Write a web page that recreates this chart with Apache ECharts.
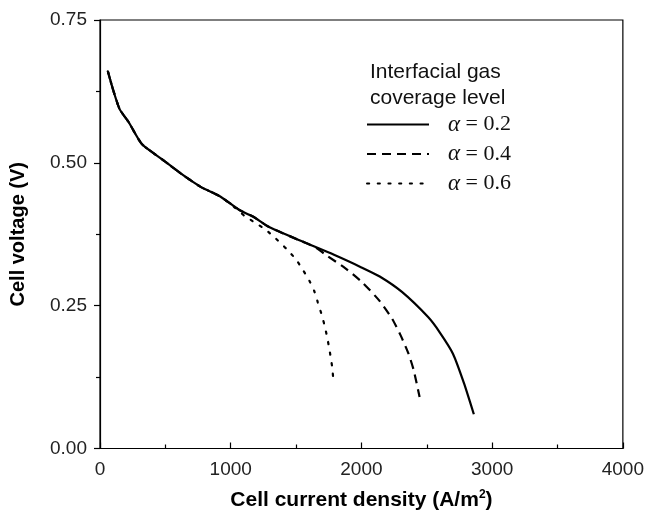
<!DOCTYPE html>
<html>
<head>
<meta charset="utf-8">
<script src="https://cdn.jsdelivr.net/npm/echarts@6/dist/echarts.min.js"></script>
<style>
html,body{margin:0;padding:0;background:#fff;}
#chart{width:647px;height:516px;}
</style>
</head>
<body>
<div id="chart"></div>
<script>
// Data
const seriesNames = ['α = 0.2', 'α = 0.4', 'α = 0.6'];
const currentA02 = [60, 70, 100, 150, 220, 320, 470, 620, 770, 920, 1070, 1170, 1290, 1540, 1790, 2000, 2140, 2310, 2510, 2600, 2700, 2785, 2860];
const voltageA02 = [0.660, 0.652, 0.628, 0.594, 0.571, 0.533, 0.507, 0.481, 0.458, 0.441, 0.417, 0.406, 0.388, 0.363, 0.339, 0.317, 0.301, 0.274, 0.230, 0.203, 0.166, 0.114, 0.060];
const currentA04 = [60, 70, 100, 150, 220, 320, 470, 620, 770, 920, 1070, 1170, 1290, 1540, 1640, 1740, 1880, 2010, 2140, 2235, 2300, 2360, 2400, 2445];
const voltageA04 = [0.660, 0.652, 0.628, 0.594, 0.571, 0.533, 0.507, 0.481, 0.458, 0.441, 0.417, 0.406, 0.388, 0.363, 0.353, 0.337, 0.315, 0.290, 0.258, 0.227, 0.198, 0.166, 0.137, 0.090];
const currentA06 = [60, 70, 100, 150, 220, 320, 470, 620, 770, 920, 1020, 1106, 1181, 1267, 1347, 1424, 1499, 1554, 1603, 1640, 1666, 1692, 1715, 1734, 1750, 1764, 1776, 1784];
const voltageA06 = [0.660, 0.652, 0.628, 0.594, 0.571, 0.533, 0.507, 0.481, 0.458, 0.441, 0.424, 0.407, 0.396, 0.383, 0.367, 0.350, 0.331, 0.312, 0.293, 0.275, 0.256, 0.237, 0.218, 0.199, 0.180, 0.161, 0.143, 0.123];
const xTicks = [0, 1000, 2000, 3000, 4000];
const yTicks = [0, 0.25, 0.5, 0.75];

function pairs(xs, ys) { return xs.map((x, i) => [x, ys[i]]); }

const chart = echarts.init(document.getElementById('chart'), null, {renderer: 'canvas'});
const sansFont = '"Liberation Sans", Arial, sans-serif';
const serifFont = '"Liberation Serif", "Times New Roman", serif';

chart.setOption({
  animation: false,
  backgroundColor: '#ffffff',
  grid: {
    left: 94, right: 17.5, top: 20, bottom: 64,
    show: true, borderColor: '#000', borderWidth: 1.2, backgroundColor: 'transparent'
  },
  xAxis: {
    type: 'value', min: xTicks[0], max: xTicks[xTicks.length - 1], interval: 1000,
    name: 'Cell current density (A/m{sup|2})',
    nameLocation: 'middle', nameGap: 40,
    nameTextStyle: {
      fontFamily: sansFont, fontSize: 21, fontWeight: 'bold', color: '#000',
      rich: { sup: { fontFamily: sansFont, fontSize: 12, fontWeight: 'bold', color: '#000', verticalAlign: 'top', padding: [0, 0, 12, 0] } }
    },
    axisLine: { show: true, lineStyle: { color: '#000', width: 1.2 } },
    axisTick: { show: true, inside: true, length: 6, lineStyle: { color: '#000', width: 1.2 } },
    minorTick: { show: true, splitNumber: 2, length: 4, lineStyle: { color: '#000', width: 1.2 } },
    axisLabel: { fontFamily: sansFont, fontSize: 19, color: '#222', margin: 12, formatter: v => String(v) },
    splitLine: { show: false }
  },
  yAxis: {
    type: 'value', min: yTicks[0], max: yTicks[yTicks.length - 1], interval: 0.25,
    name: 'Cell voltage (V)',
    nameLocation: 'middle', nameGap: 72, nameRotate: 90,
    nameTextStyle: { fontFamily: sansFont, fontSize: 20, fontWeight: 'bold', color: '#000' },
    axisLine: { show: true, lineStyle: { color: '#000', width: 1.2 } },
    axisTick: { show: true, inside: false, length: 6, lineStyle: { color: '#000', width: 1.2 } },
    minorTick: { show: true, splitNumber: 2, length: 4, lineStyle: { color: '#000', width: 1.2 } },
    axisLabel: { fontFamily: sansFont, fontSize: 19, color: '#222', margin: 13,
      formatter: v => v.toFixed(2) },
    splitLine: { show: false }
  },
  legend: {
    orient: 'vertical', left: 366, top: 113, padding: 0,
    itemWidth: 62, itemHeight: 14, itemGap: 6.5,
    data: seriesNames,
    itemStyle: { opacity: 0 },
    formatter: name => '{a|α}{b|' + name.slice(1) + '}',
    textStyle: {
      fontFamily: serifFont, fontSize: 21, color: '#111', lineHeight: 22,
      rich: {
        a: { fontFamily: serifFont, fontSize: 23, fontStyle: 'italic', color: '#111', lineHeight: 22, padding: [0, 0, 0, 14] },
        b: { fontFamily: serifFont, fontSize: 22, color: '#111', lineHeight: 22 }
      }
    }
  },
  graphic: [{
    type: 'text', left: 370, top: 59,
    style: { text: 'Interfacial gas\ncoverage level', font: '21px ' + sansFont, fill: '#111', lineHeight: 26 }
  }],
  series: [
    { name: seriesNames[2], type: 'line', data: pairs(currentA06, voltageA06), symbol: 'none', smooth: 0.2, z: 2,
      itemStyle: { color: '#000' },
      lineStyle: { color: '#000', width: 2.2, type: [2.2, 8.5], cap: 'round' } },
    { name: seriesNames[1], type: 'line', data: pairs(currentA04, voltageA04), symbol: 'none', smooth: 0.2, z: 3,
      itemStyle: { color: '#000' },
      lineStyle: { color: '#000', width: 2.2, type: [9, 6] } },
    { name: seriesNames[0], type: 'line', data: pairs(currentA02, voltageA02), symbol: 'none', smooth: 0.2, z: 4,
      itemStyle: { color: '#000' },
      lineStyle: { color: '#000', width: 2.2, type: 'solid' } }
  ]
});
</script>
</body>
</html>
